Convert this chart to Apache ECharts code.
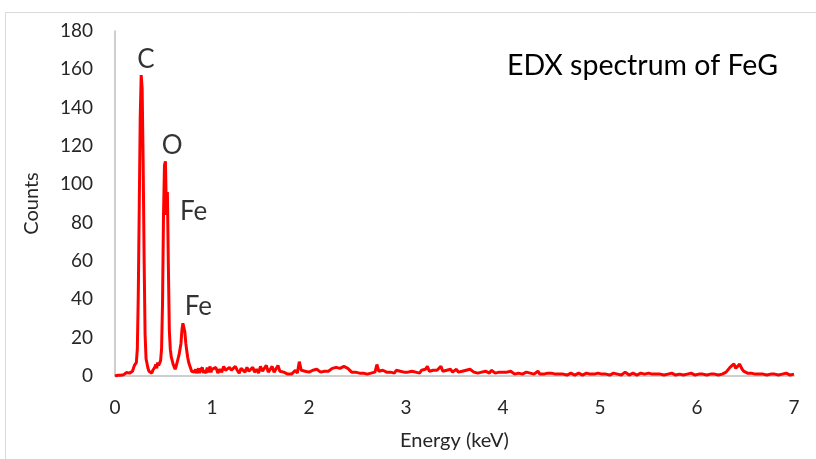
<!DOCTYPE html>
<html>
<head>
<meta charset="utf-8">
<script src="https://cdn.jsdelivr.net/npm/echarts@6/dist/echarts.min.js"></script>
<style>
html,body{margin:0;padding:0;background:#fff;}
#chart{width:816px;height:459px;}
</style>
</head>
<body>
<div id="chart"></div>
<script>
// ---- Data ----
const chartTitle = "EDX spectrum of FeG";
const xAxisName = "Energy (keV)";
const yAxisName = "Counts";
const xTicks = [0, 1, 2, 3, 4, 5, 6, 7];
const yTicks = [0, 20, 40, 60, 80, 100, 120, 140, 160, 180];

// channels 0.00 - 1.00 keV, step 0.01 keV
const lowStart = 0.00, lowStep = 0.01;
const countsLow = [
  0, 0.3, 0.5, 0.4, 0.6, 0.5, 0.4, 0.6, 0.5, 0.7,
  0.6, 1.0, 1.8, 1.2, 2.0, 1.5, 1.0, 1.6, 2.5, 3.2,
  5.5, 5.0, 7.0, 14, 42, 88, 135, 157, 150, 112,
  62, 22, 9, 6.5, 4, 2.5, 1.5, 2, 1.5, 3,
  2.5, 4.5, 6, 4, 7, 5.5, 6, 8, 14, 38,
  84, 110, 112, 84, 96, 58, 24, 14, 10, 11,
  6, 7, 3.5, 5, 4, 9, 11, 12, 17, 24,
  27.5, 27, 23, 17, 13, 9.5, 7, 5.5, 4, 2.5,
  3, 1.5, 2, 3.5, 1.5, 2.5, 4, 1.5, 3, 2,
  4.5, 1.5, 3, 2.5, 1.5, 4.5, 2, 3, 5, 2,
  3.5
];

// channels 1.02 - 7.00 keV, step 0.02 keV
const highStart = 1.02, highStep = 0.02;
const countsHigh = [
  2.5, 4.5, 1.5, 3.5, 2, 5, 3, 2, 4.5, 3,
  2, 5, 3, 1.5, 4, 3.5, 2, 4.5, 2.5, 3,
  4.5, 2, 3.5, 1.5, 5, 2.5, 3, 5.5, 2, 3.5,
  5, 2, 3, 5.5, 2.5, 3.5, 2, 1.5, 1, 1.5,
  1, 2, 3, 1.5, 7.5, 3, 2, 2.5, 3, 2,
  2.5, 3, 2, 3.5, 2.5, 2, 3, 2.5, 3.5, 2.5,
  3, 4, 3.5, 4.5, 5, 4, 3.5, 5, 4.5, 4,
  3, 2, 1.5, 2, 1, 1.5, 2.5, 1.5, 2, 1,
  2, 1.5, 2.5, 2, 6, 2.5, 2, 3, 2.5, 2,
  3, 2, 2.5, 1.5, 3, 2, 2.5, 1.5, 2, 3,
  2, 3, 2.5, 3.5, 2, 2.5, 1.5, 3, 2.5, 3.5,
  5, 2.5, 2, 3, 2.5, 3, 2, 5, 2.5, 2,
  3, 2, 3.5, 2, 2.5, 3.5, 2, 3, 2.5, 2,
  3, 2, 3.5, 2.5, 2, 3, 1.5, 2.5, 2, 1.5,
  2.5, 2, 1.5, 3, 2, 1.5, 2.5, 2, 1.5, 2,
  1.5, 2, 1, 2.5, 1.5, 1, 2, 1.5, 2.5, 1,
  1.5, 2, 1, 1.5, 2, 1, 1.5, 2.5, 1, 1.5,
  1, 2, 1.5, 1, 1.5, 2, 1, 1.5, 1, 0.5,
  1, 1.5, 0.5, 1, 1.5, 1, 0.5, 1, 1.5, 1,
  0.5, 1, 1.5, 0.5, 1, 2, 1, 0.5, 1.5, 1,
  1, 0.5, 1, 1.5, 0.5, 1, 1.5, 0.5, 1, 1.5,
  0.5, 1, 2, 1, 0.5, 1, 1.5, 1, 0.5, 1,
  1.5, 0.5, 1, 1, 1.5, 0.5, 1, 2, 1, 0.5,
  1, 1.5, 0.5, 1, 1, 0.5, 1.5, 1, 0.5, 1,
  1, 2, 0.5, 1, 1, 0.5, 1.5, 1, 0.5, 1,
  1, 0.5, 1, 1.5, 0.5, 1, 1, 0.5, 1, 1.5,
  0.5, 1, 1, 1.5, 2, 3, 4.5, 3.5, 6.3, 4,
  3.5, 6.2, 4, 2.5, 3, 1.5, 2.5, 1.5, 2, 1,
  1.5, 1, 0.5, 1, 1, 0.5, 1, 1, 0.5, 1,
  1, 0.5, 1, 1, 0.5, 1.5, 1, 0.5, 1, 1
];

// peak annotations: label anchors in data units
const peakLabels = ["C", "O", "Fe", "Fe"];
const peakLabelEnergy = [0.32, 0.59, 0.81, 0.86];
const peakLabelCounts = [165, 120, 86, 36];

// ---- Build ----
const seriesData = [];
countsLow.forEach((c, i) => seriesData.push([+(lowStart + i * lowStep).toFixed(2), c]));
countsHigh.forEach((c, i) => seriesData.push([+(highStart + i * highStep).toFixed(2), c]));

const FONT = 'Lato';
const TXT = '#262626';
const chart = echarts.init(document.getElementById('chart'), null, {renderer: 'canvas'});
chart.setOption({
  animation: false,
  backgroundColor: '#ffffff',
  title: {
    text: chartTitle,
    left: 502, top: 46,
    textStyle: {fontFamily: FONT, fontSize: 28.5, fontWeight: 'normal', color: '#000'}
  },
  grid: {left: 115, right: 22, top: 31, bottom: 83, containLabel: false},
  xAxis: {
    type: 'value', min: xTicks[0], max: xTicks[xTicks.length - 1], interval: 1,
    name: xAxisName, nameLocation: 'middle', nameGap: 55,
    nameTextStyle: {fontFamily: FONT, fontSize: 20, color: TXT},
    axisLine: {show: true, lineStyle: {color: '#bfbfbf', width: 1.5}},
    axisTick: {show: false},
    splitLine: {show: false},
    axisLabel: {fontFamily: FONT, fontSize: 19, color: TXT, margin: 22}
  },
  yAxis: {
    type: 'value', min: yTicks[0], max: yTicks[yTicks.length - 1], interval: 20,
    name: yAxisName, nameLocation: 'middle', nameGap: 73, nameRotate: 90,
    nameTextStyle: {fontFamily: FONT, fontSize: 20, color: TXT},
    axisLine: {show: true, lineStyle: {color: '#bfbfbf', width: 1.5}},
    axisTick: {show: false},
    splitLine: {show: false},
    axisLabel: {fontFamily: FONT, fontSize: 19, color: TXT, margin: 22}
  },
  graphic: [{
    type: 'rect', shape: {x: 5.5, y: 12.5, width: 830, height: 470},
    style: {fill: 'none', stroke: '#d9d9d9', lineWidth: 1}, silent: true, z: -1
  }],
  series: [{
    type: 'line',
    data: seriesData,
    showSymbol: false,
    symbol: 'none',
    lineStyle: {color: '#ff0000', width: 3},
    itemStyle: {color: '#ff0000'},
    z: 3
  }, {
    type: 'scatter',
    symbolSize: 0,
    data: peakLabels.map((t, i) => ({value: [peakLabelEnergy[i], peakLabelCounts[i]], name: t})),
    label: {
      show: true, position: 'inside',
      formatter: p => p.name,
      fontFamily: FONT, fontSize: 26, color: '#000'
    },
    silent: true,
    z: 5
  }]
});
</script>
</body>
</html>
